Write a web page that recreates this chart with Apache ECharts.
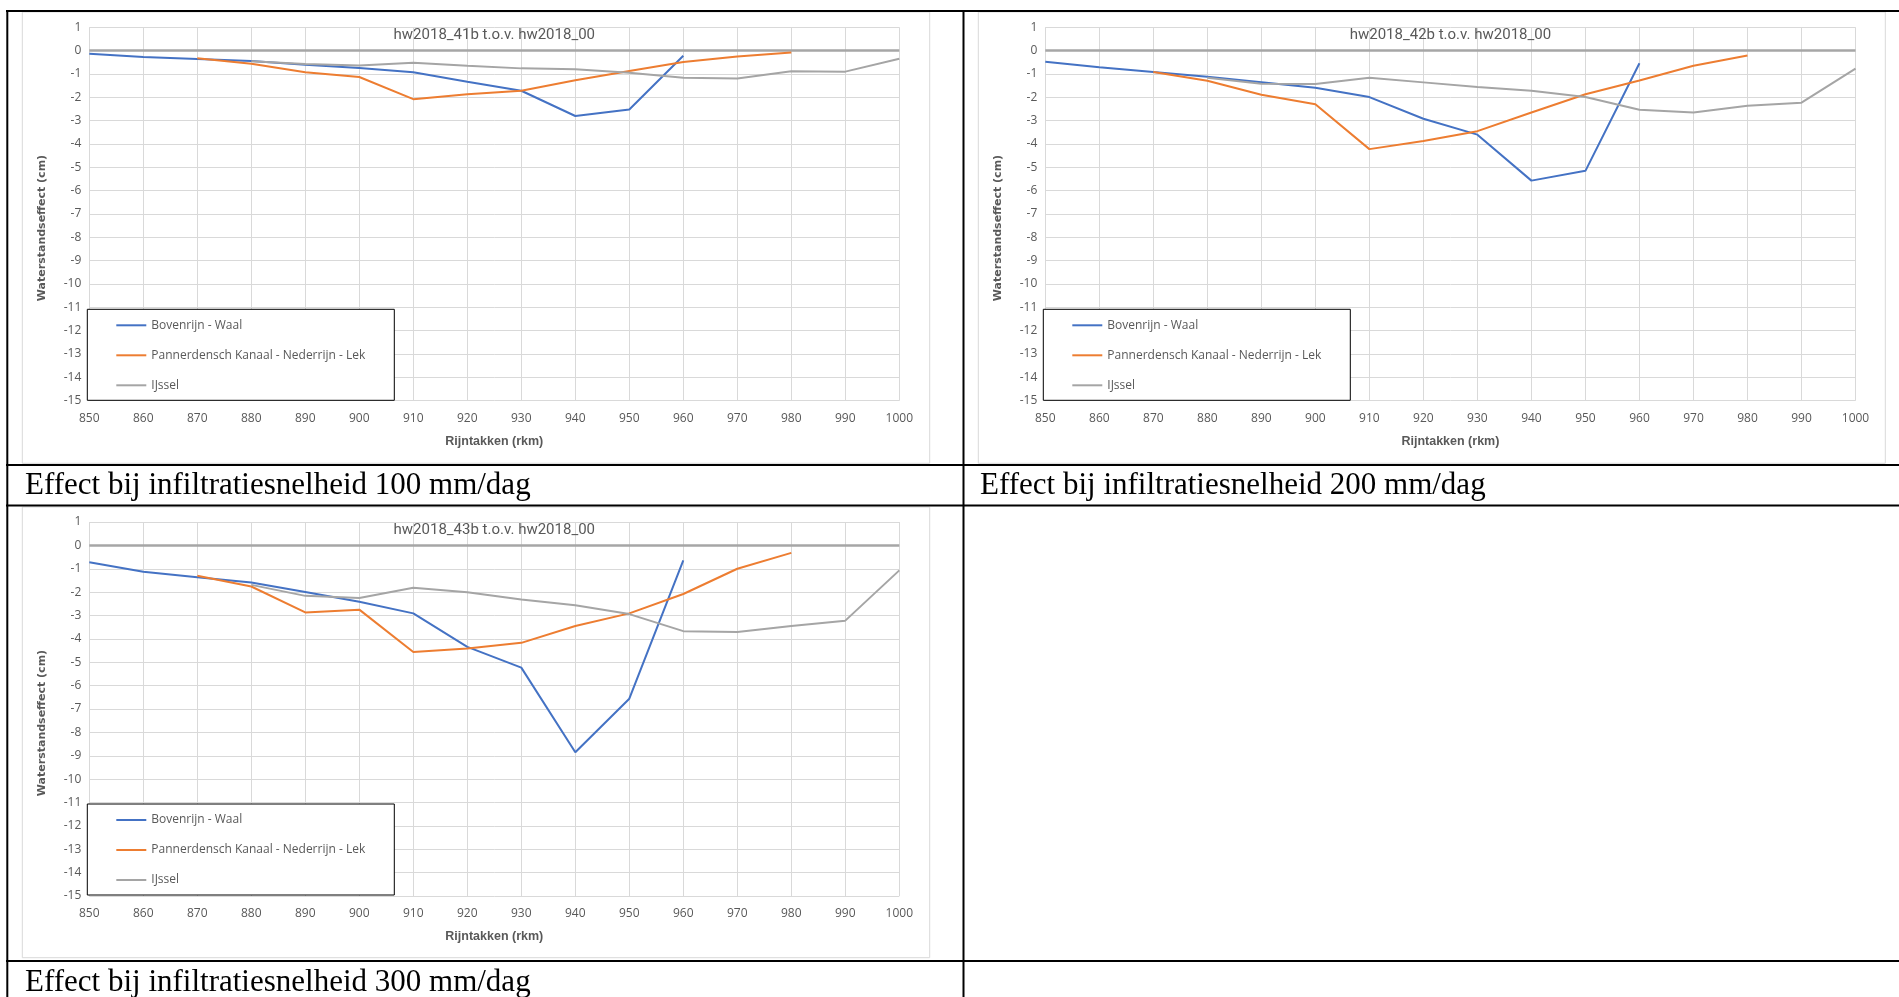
<!DOCTYPE html>
<html><head><meta charset="utf-8">
<script src="https://cdn.jsdelivr.net/npm/echarts@6/dist/echarts.min.js"></script>
<style>html,body{margin:0;padding:0;background:#fff;overflow:hidden}#c{width:1899px;height:997px}</style>
</head><body><div id="c"></div><script>
// ---- data ----
const seriesNames = ['Bovenrijn - Waal', 'Pannerdensch Kanaal - Nederrijn - Lek', 'IJssel'];
const kmBovenrijnWaal = [850, 860, 870, 880, 890, 900, 910, 920, 930, 940, 950, 960];
const kmPannerdensch  = [870, 880, 890, 900, 910, 920, 930, 940, 950, 960, 970, 980];
const kmIJssel        = [880, 890, 900, 910, 920, 930, 940, 950, 960, 970, 980, 990, 1000];

const chartTitles = ['hw2018_41b t.o.v. hw2018_00', 'hw2018_42b t.o.v. hw2018_00', 'hw2018_43b t.o.v. hw2018_00'];
const captions = ['Effect bij infiltratiesnelheid 100 mm/dag', 'Effect bij infiltratiesnelheid 200 mm/dag', 'Effect bij infiltratiesnelheid 300 mm/dag'];

const hw41b_Bovenrijn   = [-0.13, -0.27, -0.36, -0.44, -0.60, -0.74, -0.93, -1.33, -1.72, -2.80, -2.52, -0.22];
const hw41b_Pannerdensch = [-0.33, -0.56, -0.93, -1.13, -2.08, -1.87, -1.72, -1.27, -0.87, -0.49, -0.25, -0.08];
const hw41b_IJssel      = [-0.46, -0.57, -0.64, -0.52, -0.65, -0.76, -0.80, -0.95, -1.16, -1.19, -0.88, -0.90, -0.35];

const hw42b_Bovenrijn   = [-0.48, -0.71, -0.92, -1.12, -1.35, -1.59, -1.99, -2.92, -3.60, -5.57, -5.15, -0.54];
const hw42b_Pannerdensch = [-0.92, -1.29, -1.89, -2.30, -4.22, -3.87, -3.45, -2.65, -1.87, -1.28, -0.65, -0.21];
const hw42b_IJssel      = [-1.16, -1.42, -1.43, -1.16, -1.36, -1.56, -1.72, -1.99, -2.53, -2.65, -2.36, -2.23, -0.77];

const hw43b_Bovenrijn   = [-0.72, -1.13, -1.36, -1.59, -1.99, -2.41, -2.91, -4.34, -5.23, -8.85, -6.56, -0.64];
const hw43b_Pannerdensch = [-1.30, -1.76, -2.87, -2.75, -4.56, -4.41, -4.17, -3.45, -2.91, -2.08, -1.00, -0.32];
const hw43b_IJssel      = [-1.69, -2.16, -2.25, -1.81, -2.01, -2.32, -2.56, -2.94, -3.67, -3.71, -3.45, -3.22, -1.07];

const xMin = 850, xMax = 1000, xStep = 10;
const yMin = -15, yMax = 1, yStep = 1;

// ---- layout / styling ----
const colors = ['#4472C4', '#ED7D31', '#A5A5A5'];
const panels = [
  { grid: { left: 89.3, top: 27.3, width: 810, height: 373.4 }, frame: [22.3, 12, 907.4, 451.3],
    data: [hw41b_Bovenrijn, hw41b_Pannerdensch, hw41b_IJssel] },
  { grid: { left: 1045.3, top: 27.3, width: 810.2, height: 373.4 }, frame: [978.3, 12, 907, 451.3],
    data: [hw42b_Bovenrijn, hw42b_Pannerdensch, hw42b_IJssel] },
  { grid: { left: 89.3, top: 522, width: 810, height: 374 }, frame: [22.3, 507, 907.4, 450.7],
    data: [hw43b_Bovenrijn, hw43b_Pannerdensch, hw43b_IJssel] }
];
const kms = [kmBovenrijnWaal, kmPannerdensch, kmIJssel];
const zip = (xs, ys) => xs.map((x, i) => [x, ys[i]]);

const titleFont = 'Roboto, "Liberation Sans", sans-serif';
const tickFont = '"Open Sans", sans-serif';
const txtGray = '#595959';

const option = {
  animation: false,
  backgroundColor: '#ffffff',
  title: panels.map((p, i) => ({
    text: chartTitles[i],
    left: p.grid.left + p.grid.width / 2,
    top: p.grid.top + 0.5,
    textAlign: 'center',
    padding: 0,
    textStyle: { fontFamily: titleFont, fontSize: 15, fontWeight: 'normal', color: txtGray }
  })),
  grid: panels.map(p => Object.assign({ containLabel: false }, p.grid)),
  legend: panels.map((p, i) => ({
    data: seriesNames,
    orient: 'vertical',
    left: p.grid.left - 2,
    top: p.grid.top + 282,
    icon: 'rect',
    itemWidth: 30,
    itemHeight: 2,
    itemGap: 14,
    padding: [8, 28, 7, 29],
    backgroundColor: '#ffffff',
    borderColor: '#000000',
    borderWidth: 1,
    borderRadius: 0,
    selectedMode: false,
    z: 20,
    textStyle: { fontFamily: tickFont, fontSize: 12, color: txtGray, lineHeight: 16, width: 215, overflow: 'none' }
  })),
  xAxis: panels.map((p, i) => ({
    type: 'value', gridIndex: i, min: xMin, max: xMax, interval: xStep,
    axisLine: { show: false }, axisTick: { show: false },
    splitLine: { show: true, lineStyle: { color: '#D9D9D9', width: 1 } },
    axisLabel: { color: txtGray, fontFamily: tickFont, fontSize: 12, margin: 12, formatter: v => String(v) },
    name: 'Rijntakken (rkm)', nameLocation: 'middle', nameGap: 34,
    nameTextStyle: { fontFamily: '"Liberation Sans", sans-serif', fontSize: 12.5, fontWeight: 'bold', color: txtGray }
  })),
  yAxis: panels.map((p, i) => ({
    type: 'value', gridIndex: i, min: yMin, max: yMax, interval: yStep,
    axisLine: { show: false }, axisTick: { show: false },
    splitLine: { show: true, lineStyle: { color: '#D9D9D9', width: 1 } },
    axisLabel: { color: txtGray, fontFamily: tickFont, fontSize: 12, margin: 8, formatter: v => String(v) },
    name: 'Waterstandseffect (cm)', nameLocation: 'middle', nameRotate: 90, nameGap: 42,
    nameTextStyle: { fontFamily: '"DejaVu Sans", sans-serif', fontSize: 11, fontWeight: 'bold', color: txtGray, padding: [0, 28, 0, 0] }
  })),
  series: [],
  graphic: []
};

panels.forEach((p, i) => {
  seriesNames.forEach((name, s) => {
    const ser = {
      type: 'line', name: name, xAxisIndex: i, yAxisIndex: i,
      data: zip(kms[s], p.data[s]),
      symbol: 'none', color: colors[s],
      lineStyle: { color: colors[s], width: 2 },
      z: 3 + s
    };
    if (s === 0) {
      ser.markLine = {
        silent: true, symbol: 'none', label: { show: false },
        lineStyle: { color: '#A6A6A6', width: 2.5, type: 'solid' },
        data: [{ yAxis: 0 }], z: 1
      };
    }
    option.series.push(ser);
  });
});

// chart frames (image borders)
panels.forEach(p => {
  option.graphic.push({
    type: 'rect', z: -10, silent: true,
    shape: { x: p.frame[0], y: p.frame[1], width: p.frame[2], height: p.frame[3] },
    style: { fill: '#ffffff', stroke: '#D9D9D9', lineWidth: 1 }
  });
});

// table lines
const tableLines = [
  [6, 11, 1899, 11], [7.3, 10, 7.3, 997], [963.5, 10, 963.5, 997],
  [6, 465, 1899, 465], [6, 505.5, 1899, 505.5], [6, 961, 1899, 961]
];
tableLines.forEach(l => option.graphic.push({
  type: 'line', z: 100, silent: true,
  shape: { x1: l[0], y1: l[1], x2: l[2], y2: l[3] },
  style: { stroke: '#000000', lineWidth: 2 }
}));

// captions
const capPos = [[25, 486], [980, 486], [25, 983]];
captions.forEach((t, i) => option.graphic.push({
  type: 'text', z: 100, silent: true, x: capPos[i][0], y: capPos[i][1],
  style: { text: t, font: '31px "Liberation Serif", serif', fill: '#000000', verticalAlign: 'middle', align: 'left' }
}));

const chart = echarts.init(document.getElementById('c'), null, { renderer: 'canvas' });
chart.setOption(option);
</script></body></html>
